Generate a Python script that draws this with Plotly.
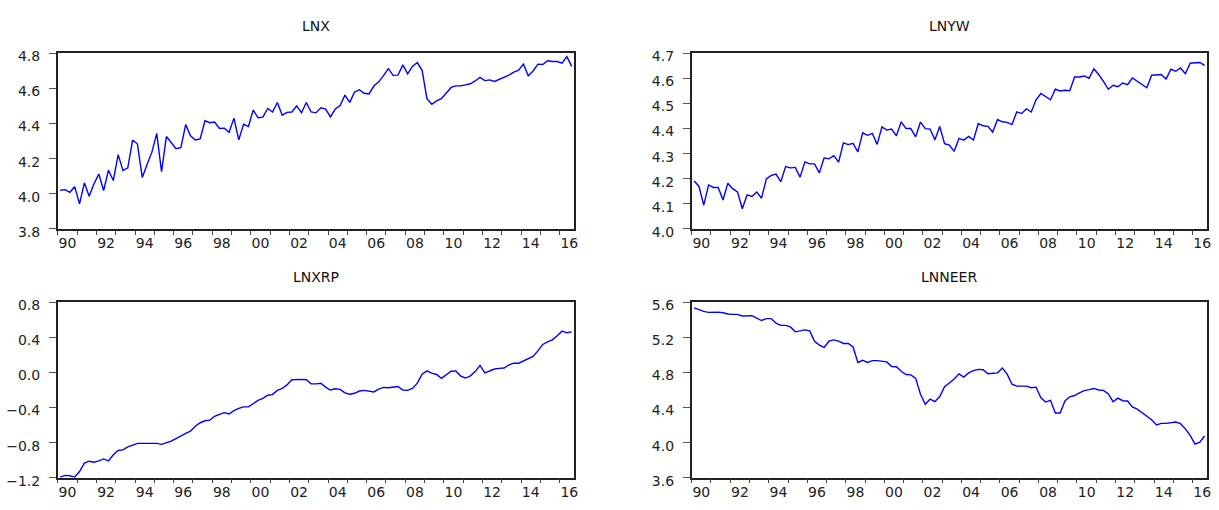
import numpy as np
import plotly.graph_objects as go

# Quarterly observations 1990Q1 .. 2016Q3
n_obs = 107
years_x = [1990 + (i + 0.5) / 4 for i in range(n_obs)]

lnx = [4.020, 4.023, 4.008, 4.040, 3.942, 4.062, 3.985, 4.056, 4.112, 4.018,
       4.134, 4.075, 4.223, 4.132, 4.147, 4.306, 4.283, 4.093, 4.167, 4.237,
       4.344, 4.125, 4.326, 4.293, 4.256, 4.263, 4.394, 4.330, 4.306, 4.313,
       4.416, 4.405, 4.409, 4.372, 4.374, 4.350, 4.431, 4.307, 4.396, 4.383,
       4.477, 4.433, 4.437, 4.486, 4.466, 4.520, 4.448, 4.464, 4.466, 4.501,
       4.462, 4.520, 4.466, 4.461, 4.490, 4.483, 4.438, 4.483, 4.503, 4.562,
       4.521, 4.580, 4.593, 4.573, 4.569, 4.614, 4.638, 4.673, 4.713, 4.675,
       4.676, 4.735, 4.684, 4.726, 4.748, 4.704, 4.542, 4.510, 4.529, 4.542,
       4.577, 4.606, 4.615, 4.615, 4.621, 4.627, 4.643, 4.663, 4.645, 4.649,
       4.640, 4.652, 4.662, 4.676, 4.693, 4.704, 4.739, 4.673, 4.700, 4.739,
       4.737, 4.758, 4.754, 4.754, 4.745, 4.782, 4.726]

lnyw = [4.191, 4.170, 4.094, 4.175, 4.165, 4.165, 4.115, 4.182, 4.160, 4.147,
        4.080, 4.135, 4.129, 4.147, 4.122, 4.199, 4.213, 4.218, 4.188, 4.248,
        4.243, 4.245, 4.206, 4.267, 4.259, 4.259, 4.223, 4.283, 4.279, 4.292,
        4.266, 4.343, 4.336, 4.341, 4.307, 4.383, 4.373, 4.381, 4.337, 4.407,
        4.394, 4.398, 4.371, 4.427, 4.400, 4.400, 4.367, 4.426, 4.400, 4.398,
        4.355, 4.408, 4.340, 4.334, 4.309, 4.361, 4.354, 4.369, 4.354, 4.420,
        4.411, 4.409, 4.386, 4.436, 4.427, 4.425, 4.416, 4.467, 4.460, 4.479,
        4.466, 4.515, 4.540, 4.529, 4.515, 4.557, 4.550, 4.553, 4.551, 4.606,
        4.606, 4.610, 4.601, 4.639, 4.616, 4.588, 4.557, 4.573, 4.567, 4.582,
        4.575, 4.602, 4.588, 4.576, 4.563, 4.613, 4.613, 4.616, 4.598, 4.637,
        4.629, 4.642, 4.619, 4.661, 4.663, 4.664, 4.652]

lnxrp = [-1.193, -1.174, -1.178, -1.193, -1.130, -1.034, -1.012, -1.023, -1.008, -0.986,
         -1.008, -0.938, -0.890, -0.883, -0.849, -0.831, -0.809, -0.809, -0.809, -0.809,
         -0.809, -0.820, -0.805, -0.783, -0.754, -0.720, -0.694, -0.669, -0.613, -0.573,
         -0.551, -0.543, -0.499, -0.477, -0.458, -0.473, -0.436, -0.410, -0.392, -0.392,
         -0.355, -0.318, -0.296, -0.259, -0.252, -0.204, -0.182, -0.141, -0.082, -0.078,
         -0.078, -0.082, -0.130, -0.130, -0.122, -0.167, -0.200, -0.185, -0.193, -0.233,
         -0.248, -0.237, -0.211, -0.204, -0.211, -0.222, -0.189, -0.170, -0.174, -0.167,
         -0.159, -0.200, -0.204, -0.182, -0.122, -0.019, 0.018, -0.008, -0.023, -0.067,
         -0.023, 0.014, 0.018, -0.041, -0.063, -0.038, 0.010, 0.080, -0.004, 0.021,
         0.040, 0.047, 0.051, 0.088, 0.106, 0.106, 0.132, 0.158, 0.184, 0.246,
         0.320, 0.350, 0.372, 0.420, 0.472, 0.453, 0.464]

lnneer = [5.537, 5.515, 5.497, 5.486, 5.489, 5.489, 5.482, 5.467, 5.463, 5.463,
          5.445, 5.449, 5.449, 5.419, 5.393, 5.415, 5.415, 5.364, 5.338, 5.338,
          5.320, 5.264, 5.279, 5.286, 5.275, 5.157, 5.113, 5.087, 5.157, 5.172,
          5.157, 5.131, 5.131, 5.091, 4.914, 4.939, 4.914, 4.936, 4.936, 4.928,
          4.921, 4.869, 4.866, 4.814, 4.777, 4.773, 4.733, 4.552, 4.438, 4.497,
          4.467, 4.526, 4.637, 4.681, 4.725, 4.785, 4.748, 4.796, 4.821, 4.836,
          4.832, 4.785, 4.788, 4.796, 4.851, 4.781, 4.666, 4.644, 4.644, 4.644,
          4.626, 4.633, 4.511, 4.463, 4.482, 4.338, 4.338, 4.475, 4.523, 4.537,
          4.567, 4.593, 4.604, 4.618, 4.600, 4.596, 4.556, 4.467, 4.508, 4.478,
          4.475, 4.408, 4.382, 4.342, 4.294, 4.261, 4.201, 4.220, 4.220, 4.224,
          4.235, 4.216, 4.157, 4.083, 3.984, 4.006, 4.076]

titles = ["LNX", "LNYW", "LNXRP", "LNNEER"]
series = [lnx, lnyw, lnxrp, lnneer]
y_ranges = [[3.8, 4.8], [4.0, 4.7], [-1.2, 0.8], [3.6, 5.6]]
y_dticks = [0.2, 0.1, 0.4, 0.4]
x_label_years = list(range(1990, 2017, 2))
x_label_text = ["%02d" % (y % 100) for y in x_label_years]

W, H = 1219, 510
# panel boxes in pixels (left, right, top, bottom)
boxes = [(58, 576, 50, 231), (694, 1211, 50, 231),
         (58, 576, 307, 488), (694, 1211, 307, 488)]
title_gap = [28, 28, 26, 26]

fig = go.Figure()
FONT = "DejaVu Sans"
for k in range(4):
    xa = "x" if k == 0 else "x%d" % (k + 1)
    ya = "y" if k == 0 else "y%d" % (k + 1)
    fig.add_trace(go.Scatter(x=years_x, y=series[k], mode="lines",
                             line=dict(color="#0000FF", width=1.4),
                             xaxis=xa, yaxis=ya, showlegend=False,
                             hoverinfo="skip"))
    l, r, t, b = boxes[k]
    xdom = [l / W, r / W]
    ydom = [1 - b / H, 1 - t / H]
    axkey_x = "xaxis" if k == 0 else "xaxis%d" % (k + 1)
    axkey_y = "yaxis" if k == 0 else "yaxis%d" % (k + 1)
    fig.update_layout(**{
        axkey_x: dict(domain=xdom, anchor=ya, range=[1990, 2016.75],
                      tickmode="array",
                      tickvals=[y + 0.5 for y in x_label_years],
                      ticktext=x_label_text, ticks="",
                      ticklabelstandoff=1,
                      minor=dict(tickmode="array",
                                 tickvals=list(range(1990, 2017)),
                                 ticks="outside", ticklen=4,
                                 tickcolor="#444", tickwidth=1,
                                 showgrid=False),
                      showgrid=False, zeroline=False,
                      showline=True, linecolor="#222", linewidth=1.6,
                      mirror=True,
                      tickfont=dict(family=FONT, size=14, color="#222")),
        axkey_y: dict(domain=ydom, anchor=xa, range=y_ranges[k],
                      dtick=y_dticks[k], tick0=0, tickformat=".1f",
                      ticks="outside", ticklen=7, tickcolor="#555",
                      tickwidth=1, ticklabelstandoff=6, ticklabelshift=3,
                      showgrid=False, zeroline=False,
                      showline=True, linecolor="#222", linewidth=1.6,
                      mirror=True,
                      tickfont=dict(family=FONT, size=14, color="#222")),
    })
    fig.add_annotation(text=titles[k], xref="paper", yref="paper",
                       x=(l + r) / 2 / W, y=1 - (t - title_gap[k]) / H,
                       showarrow=False, xanchor="center", yanchor="middle",
                       font=dict(family=FONT, size=14, color="#111"))

fig.update_layout(width=W, height=H, margin=dict(l=0, r=0, t=0, b=0),
                  paper_bgcolor="white", plot_bgcolor="white")
fig.write_html("out.html", config={"displayModeBar": False},
               post_script="document.body.style.margin='0';"
                           "document.body.style.overflow='hidden';")
